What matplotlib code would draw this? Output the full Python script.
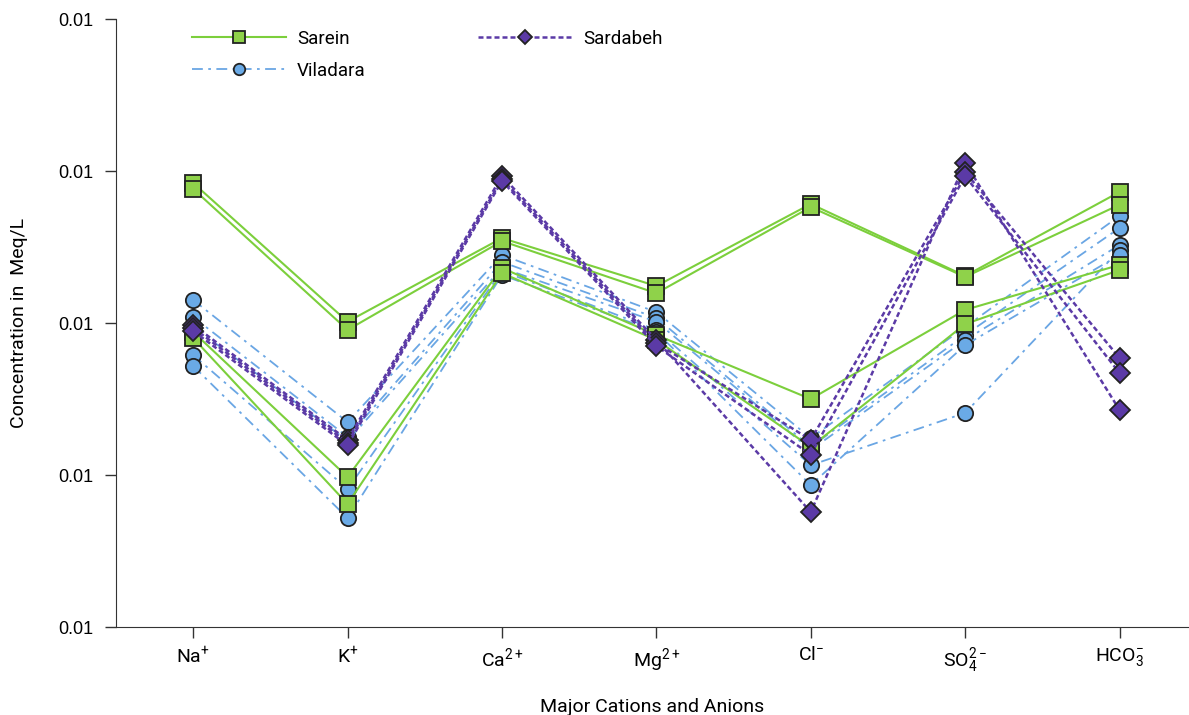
import numpy as np
import matplotlib.pyplot as plt
from matplotlib.ticker import FixedLocator, FixedFormatter, NullLocator

plt.rcParams['font.family'] = ['Liberation Sans Narrow', 'Roboto', 'DejaVu Sans']
plt.rcParams['mathtext.fontset'] = 'custom'
plt.rcParams['mathtext.rm'] = 'Roboto'
plt.rcParams['mathtext.it'] = 'Roboto'

ions = ['Na$^{+}$', 'K$^{+}$', 'Ca$^{2+}$', 'Mg$^{2+}$', 'Cl$^{-}$',
        'SO$_4^{2-}$', 'HCO$_3^{-}$']

# concentrations (meq/L), one row per sample
sarein = [
    [0.834, 0.102, 0.362, 0.175, 0.607, 0.204, 0.728],
    [0.762, 0.090, 0.346, 0.157, 0.579, 0.201, 0.600],
    [0.0873, 0.0097, 0.230, 0.0834, 0.0316, 0.122, 0.241],
    [0.0796, 0.00644, 0.213, 0.0773, 0.0153, 0.0984, 0.223],
]
viladara = [
    [0.1416, 0.0223, 0.280, 0.118, 0.0175, 0.0942, 0.506],
    [0.1094, 0.0178, 0.252, 0.108, 0.0153, 0.0834, 0.422],
    [0.0942, 0.0168, 0.230, 0.102, 0.0146, 0.0773, 0.326],
    [0.0615, 0.00809, 0.220, 0.090, 0.0116, 0.0256, 0.302],
    [0.0521, 0.00521, 0.207, 0.0873, 0.00859, 0.0716, 0.280],
]
sardabeh = [
    [0.097, 0.0170, 0.927, 0.0773, 0.00571, 1.13, 0.0268],
    [0.0927, 0.0163, 0.885, 0.0738, 0.0170, 0.984, 0.0589],
    [0.0885, 0.0157, 0.859, 0.0706, 0.0136, 0.927, 0.0469],
]

yticks = [0.001, 0.01, 0.1, 1, 10]
ytick_labels = ['0.01'] * 5

fig = plt.figure(figsize=(11.89, 7.15), dpi=100)
ax = fig.add_axes([116 / 1189, 88 / 715, 1 - 116 / 1189, 608 / 715])
x = np.arange(len(ions))

green, green_face = '#7ccf3c', '#8fd24a'
blue_line, blue_face = '#6aa6e4', '#6aaae6'
purple = '#5b3aa6'
edge = '#222222'

for i, row in enumerate(viladara):
    ax.plot(x, row, linestyle=(0, (6, 3, 1.5, 3)), color=blue_line, lw=1.3,
            marker='o', ms=11, mfc=blue_face, mec=edge, mew=1.3,
            label='Viladara' if i == 0 else None, zorder=2)
for i, row in enumerate(sarein):
    ax.plot(x, row, '-', color=green, lw=1.5,
            marker='s', ms=11, mfc=green_face, mec=edge, mew=1.3,
            label='Sarein' if i == 0 else None, zorder=3)
for i, row in enumerate(sardabeh):
    ax.plot(x, row, linestyle=(0, (2, 1.2)), color=purple, lw=1.8,
            marker='D', ms=10, mfc=purple, mec=edge, mew=1.3,
            label='Sardabeh' if i == 0 else None, zorder=4)

ax.set_yscale('log')
ax.set_ylim(0.001, 10)
ax.set_xlim(-0.5, 6.45)
ax.yaxis.set_major_locator(FixedLocator(yticks))
ax.yaxis.set_major_formatter(FixedFormatter(ytick_labels))
ax.yaxis.set_minor_locator(NullLocator())
ax.set_xticks(x)
ax.set_xticklabels(ions, fontsize=14)
for lab in ax.get_yticklabels():
    lab.set_fontfamily(['Liberation Sans', 'DejaVu Sans'])
    lab.set_fontsize(13)
ax.tick_params(axis='both', length=8, width=1, color='#333333')
ax.tick_params(axis='y', pad=8)
ax.tick_params(axis='x', pad=6)

for s in ['top', 'right']:
    ax.spines[s].set_visible(False)
for s in ['left', 'bottom']:
    ax.spines[s].set_color('#333333')

ax.set_ylabel('Concentration in  Meq/L', fontsize=14, labelpad=22)
ax.set_xlabel('Major Cations and Anions', fontsize=14, labelpad=16)

h, l = ax.get_legend_handles_labels()
order = [l.index('Sarein'), l.index('Viladara'), l.index('Sardabeh')]
ax.legend([h[k] for k in order], [l[k] for k in order], ncol=2,
          loc='upper left', bbox_to_anchor=(0.055, 1.01), frameon=False,
          fontsize=13.5, handlelength=5, markerscale=0.75, columnspacing=6,
          labelspacing=0.75, handletextpad=0.6)

fig.savefig('out.png', dpi=100)
